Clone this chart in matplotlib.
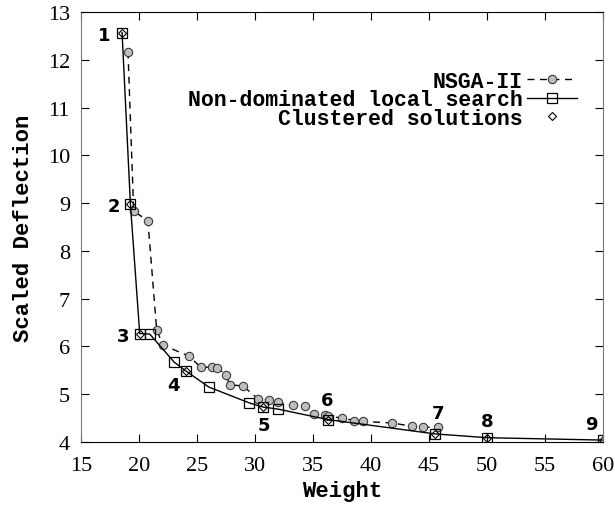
import matplotlib
matplotlib.use("Agg")
import matplotlib.pyplot as plt

# NSGA-II front (circles, dashed)
nsga_w = [19.05, 19.54, 20.77, 21.52, 22.06, 24.27, 25.31, 26.28, 26.74, 27.52,
          27.80, 28.98, 30.27, 31.24, 31.99, 33.30, 34.31, 35.06, 36.03, 36.26,
          37.52, 38.55, 39.27, 41.77, 43.52, 44.47, 45.76]
nsga_d = [12.17, 8.84, 8.62, 6.35, 6.03, 5.80, 5.57, 5.56, 5.55, 5.41,
          5.20, 5.17, 4.90, 4.88, 4.83, 4.77, 4.75, 4.59, 4.56, 4.54,
          4.50, 4.45, 4.43, 4.40, 4.33, 4.31, 4.31]

# non-dominated local search (squares, solid)
ls_w = [18.54, 19.26, 20.06, 20.92, 23.04, 24.02, 26.02, 29.49, 30.72, 31.95,
        36.26, 45.50, 50.00, 60.00]
ls_d = [12.57, 8.98, 6.27, 6.26, 5.67, 5.49, 5.15, 4.82, 4.73, 4.69,
        4.47, 4.17, 4.09, 4.04]

# clustered solutions (diamonds, numbered)
cl_w = [18.54, 19.26, 20.06, 24.02, 30.72, 36.26, 45.50, 50.00, 60.00]
cl_d = [12.57, 8.98, 6.27, 5.49, 4.73, 4.47, 4.17, 4.09, 4.04]
cl_names = ["1", "2", "3", "4", "5", "6", "7", "8", "9"]
# label offsets in pixels
cl_off = [(-18, -2), (-17, -2), (-17, -2), (-12, -14), (0, -18),
          (-1, 20), (3, 21), (0, 17), (-12, 16)]

mono = "Liberation Mono"
serif = "Liberation Serif"

fig = plt.figure(figsize=(6.15, 5.06), dpi=100)
ax = fig.add_axes([0.1317, 0.1245, 0.849, 0.8498])

ax.plot(nsga_w, nsga_d, color="black", linestyle=(0, (5, 4)), linewidth=1.0,
        marker="o", markersize=6, markerfacecolor="#bebebe",
        markeredgecolor="#3a3a3a", markeredgewidth=0.8, label="NSGA-II")
ax.plot(ls_w, ls_d, color="black", linestyle="-", linewidth=1.0,
        marker="s", markersize=6.5, markerfacecolor="none",
        markeredgecolor="black", markeredgewidth=0.9,
        label="Non-dominated local search")
ax.plot(cl_w, cl_d, linestyle="none", marker="D", markersize=4.3,
        markerfacecolor="none", markeredgecolor="black", markeredgewidth=0.8,
        label="Clustered solutions")

for w, d, name, off in zip(cl_w, cl_d, cl_names, cl_off):
    ax.annotate(name, (w, d), xytext=off, textcoords="offset pixels",
                ha="center", va="center", fontsize=13, fontweight="bold",
                family="DejaVu Sans")

ax.set_xlim(15, 60)
ax.set_ylim(4, 13)
ax.set_xticks(range(15, 61, 5))
ax.set_yticks(range(4, 14))
ax.tick_params(direction="in", length=6, width=0.8, top=True, right=True,
               labelsize=16)
ax.tick_params(axis="x", pad=10)
ax.tick_params(axis="y", pad=8)
for lab in ax.get_xticklabels() + ax.get_yticklabels():
    lab.set_family(serif)

for side in ["left", "right"]:
    ax.spines[side].set_color("#777777")
for side in ["top", "bottom"]:
    ax.spines[side].set_color("black")

ax.set_xlabel("Weight", family=mono, fontweight="bold", fontsize=16, labelpad=4)
ax.set_ylabel("Scaled Deflection", family=mono, fontweight="bold", fontsize=16,
              labelpad=10)

leg = ax.legend(loc="upper right", bbox_to_anchor=(0.970, 0.888),
                frameon=False, markerfirst=False, handlelength=2.3,
                handletextpad=0.2, labelspacing=-0.12, borderpad=0,
                prop={"family": mono, "weight": "bold", "size": 15.5})

fig.savefig("out.png", dpi=100)
